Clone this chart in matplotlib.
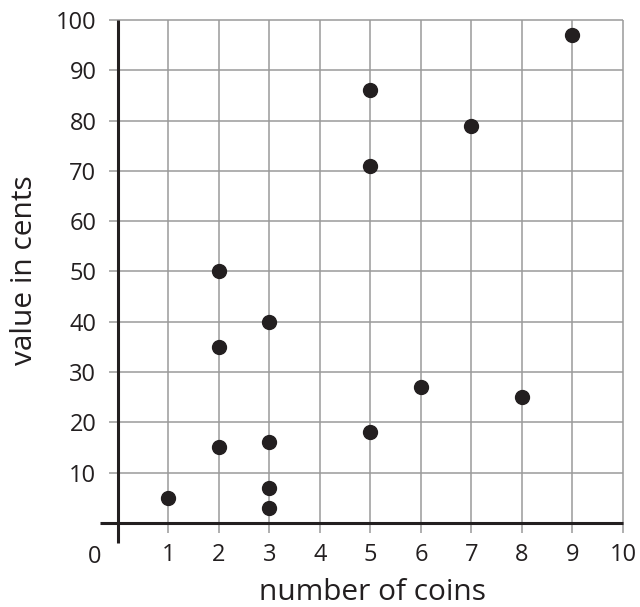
import numpy as np
import matplotlib.pyplot as plt

plt.rcParams['font.family'] = ['Open Sans', 'DejaVu Sans']

coins = [1, 2, 2, 2, 3, 3, 3, 3, 5, 5, 5, 6, 7, 8, 9]
cents = [5, 50, 35, 15, 40, 16, 7, 3, 86, 71, 18, 27, 79, 25, 97]

x_ticks = list(range(1, 11))
y_ticks = list(range(10, 101, 10))

ink = '#231f20'
grid_c = '#9a9a9a'

fig = plt.figure(figsize=(6.4, 6.07), dpi=100)
ax = fig.add_axes([0.1528, 0.1038, 0.8245, 0.8674])
ax.set_xlim(-0.4, 10.05)
ax.set_ylim(-4.2, 100.5)

# grid lines, a little past the axes
for xv in x_ticks:
    ax.plot([xv, xv], [-2, 100], color=grid_c, lw=1.1, zorder=1, solid_capstyle='butt')
for yv in y_ticks:
    ax.plot([-0.18, 10], [yv, yv], color=grid_c, lw=1.1, zorder=1, solid_capstyle='butt')

# axes
ax.plot([-0.36, 10], [0, 0], color=ink, lw=2.2, zorder=2, solid_capstyle='butt')
ax.plot([0, 0], [-4, 100], color=ink, lw=2.2, zorder=2, solid_capstyle='butt')

ax.plot(coins, cents, 'o', color=ink, markersize=10, zorder=3)

for s in ax.spines.values():
    s.set_visible(False)
ax.set_xticks(x_ticks)
ax.set_yticks(y_ticks)
ax.tick_params(length=0, labelsize=17, colors=ink)
ax.tick_params(axis='x', pad=-1)
ax.tick_params(axis='y', pad=1)
ax.text(-0.46, -4.4, '0', ha='center', va='top', fontsize=17, color=ink, clip_on=False)

ax.set_xlabel('number of coins', fontsize=21.5, color=ink, labelpad=8.5)
ax.set_ylabel('value in cents', fontsize=21.5, color=ink, labelpad=12)
ax.xaxis.label.set_x(0.52)
ax.yaxis.label.set_y(0.52)

fig.savefig('out.png', dpi=100)
